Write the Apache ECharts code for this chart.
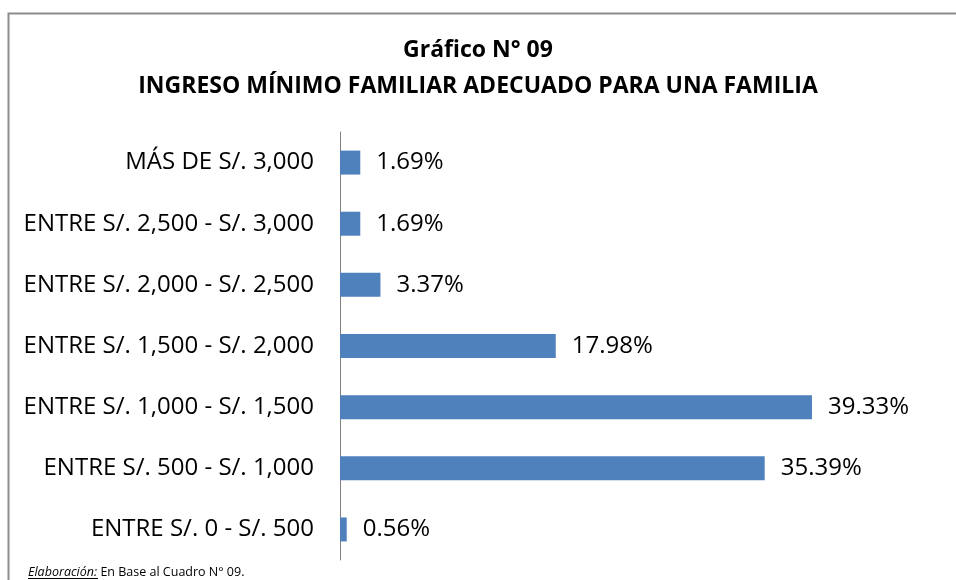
<!DOCTYPE html>
<html>
<head>
<meta charset="utf-8">
<script src="https://cdn.jsdelivr.net/npm/echarts@6/dist/echarts.min.js"></script>
<style>html,body{margin:0;padding:0;background:#fff;}#c{width:956px;height:580px;}</style>
</head>
<body>
<div id="c"></div>
<script>
const categories = [
  'ENTRE S/. 0 - S/. 500',
  'ENTRE S/. 500 - S/. 1,000',
  'ENTRE S/. 1,000 - S/. 1,500',
  'ENTRE S/. 1,500 - S/. 2,000',
  'ENTRE S/. 2,000 - S/. 2,500',
  'ENTRE S/. 2,500 - S/. 3,000',
  'MÁS DE S/. 3,000'
];
const values = [0.56, 35.39, 39.33, 17.98, 3.37, 1.69, 1.69];
const titleLine1 = 'Gráfico N° 09';
const titleLine2 = 'INGRESO MÍNIMO FAMILIAR ADECUADO PARA UNA FAMILIA';
const footerLabel = 'Elaboración:';
const footerText = ' En Base al Cuadro N° 09.';

const FONT = '"Open Sans", "Noto Sans", sans-serif';
const chart = echarts.init(document.getElementById('c'));
chart.setOption({
  animation: false,
  title: {
    text: titleLine1 + '\n' + titleLine2,
    left: 'center',
    top: 27,
    textStyle: { fontFamily: FONT, fontSize: 23, fontWeight: 'bold', color: '#000', lineHeight: 36 }
  },
  grid: { left: 340, top: 132, width: 480, height: 428 },
  xAxis: { type: 'value', min: 0, max: 40, show: false },
  yAxis: {
    type: 'category',
    data: categories,
    axisLine: { show: true, lineStyle: { color: '#808080', width: 1 } },
    axisTick: { show: false },
    axisLabel: { fontFamily: FONT, fontSize: 24, color: '#000', margin: 26 }
  },
  series: [{
    type: 'bar',
    data: values,
    barWidth: 24,
    itemStyle: { color: '#4F81BD' },
    label: {
      show: true,
      position: 'right',
      distance: 16,
      formatter: p => p.value.toFixed(2) + '%',
      fontFamily: FONT, fontSize: 24, color: '#000'
    }
  }],
  graphic: [
    { type: 'rect', shape: { x: 8.5, y: 13.5, width: 1000, height: 700 },
      style: { fill: 'none', stroke: '#8c8c8c', lineWidth: 2 }, silent: true },
    { type: 'text', left: 28, top: 566,
      style: { text: '{a|' + footerLabel + '}{b|' + footerText + '}',
        rich: {
          a: { fontFamily: FONT, fontSize: 12.5, fontStyle: 'italic', fill: '#000' },
          b: { fontFamily: FONT, fontSize: 12.5, fill: '#000' }
        } } },
    { type: 'line', shape: { x1: 28, y1: 578.5, x2: 98, y2: 578.5 }, style: { stroke: '#000', lineWidth: 1 } }
  ]
});
</script>
</body>
</html>
